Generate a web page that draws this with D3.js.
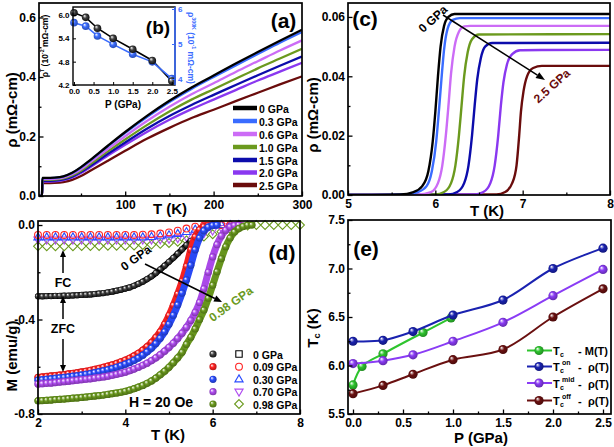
<!DOCTYPE html>
<html><head><meta charset="utf-8">
<script src="https://cdn.jsdelivr.net/npm/d3@7"></script>
<style>body{margin:0;background:#fff}svg{display:block}</style>
</head><body><svg width="614" height="447"></svg>
<script>
// ================= DATA =================
// Panel (a): rho(T) 0-300 K
const aT = [2.5, 5.9, 6.3, 10, 20, 30, 40, 50, 60, 80, 100, 125, 150, 175, 200, 225, 250, 275, 300];
const aLabels = ["0 GPa","0.3 GPa","0.6 GPa","1.0 GPa","1.5 GPa","2.0 GPa","2.5 GPa"];
const aRho00 = [0,0,0.061,0.061,0.062,0.066,0.078,0.097,0.120,0.168,0.215,0.270,0.320,0.365,0.405,0.445,0.484,0.522,0.559];
const aRho03 = [0,0,0.060,0.060,0.061,0.065,0.077,0.096,0.118,0.166,0.212,0.266,0.316,0.360,0.400,0.439,0.477,0.515,0.551];
const aRho06 = [0,0,0.057,0.057,0.058,0.062,0.073,0.090,0.112,0.157,0.201,0.253,0.300,0.342,0.379,0.417,0.453,0.489,0.523];
const aRho10 = [0,0,0.054,0.054,0.055,0.059,0.069,0.085,0.106,0.149,0.190,0.239,0.284,0.324,0.359,0.394,0.429,0.462,0.495];
const aRho15 = [0,0,0.051,0.051,0.052,0.056,0.065,0.081,0.100,0.141,0.180,0.227,0.269,0.306,0.340,0.373,0.406,0.438,0.469];
const aRho20 = [0,0,0.048,0.048,0.049,0.053,0.062,0.077,0.096,0.135,0.172,0.216,0.256,0.292,0.324,0.356,0.388,0.418,0.448];
const aRho25 = [0,0,0.043,0.043,0.044,0.047,0.054,0.067,0.084,0.118,0.152,0.193,0.229,0.262,0.290,0.319,0.347,0.375,0.402];
const aXTicks = [100, 200, 300];
const aYTicks = [0.0, 0.2, 0.4, 0.6];

// Panel (b): inset
const bP = [0, 0.3, 0.6, 1.0, 1.5, 2.0, 2.5];
const bRhoT = [6.06, 5.94, 5.66, 5.40, 5.12, 4.83, 4.30];
const bRho300 = [5.61, 5.51, 5.23, 4.99, 4.71, 4.49, 4.01];
const bXTicks = [0, 0.5, 1.0, 1.5, 2.0, 2.5];
const bYTicksL = [4.2, 4.8, 5.4, 6.0];
const bYTicksR = [4, 5, 6];

// Panel (c): rho(T) near Tc
const cT00 = [5, 5.6, 5.75, 5.85, 5.92, 5.97, 6.00, 6.03, 6.06, 6.10, 6.15, 6.22, 8];
const cR00 = [0, 0.0002, 0.001, 0.003, 0.008, 0.018, 0.028, 0.040, 0.050, 0.057, 0.060, 0.061, 0.061];
const cT03 = [5, 5.65, 5.8, 5.9, 5.96, 6.01, 6.04, 6.07, 6.10, 6.14, 6.20, 6.28, 8];
const cR03 = [0, 0.0002, 0.001, 0.003, 0.008, 0.018, 0.028, 0.039, 0.049, 0.056, 0.059, 0.0596, 0.0596];
const cT06 = [5, 5.8, 5.95, 6.03, 6.08, 6.12, 6.15, 6.18, 6.22, 6.27, 6.33, 6.40, 8];
const cR06 = [0, 0.0002, 0.001, 0.004, 0.010, 0.020, 0.030, 0.041, 0.050, 0.055, 0.0568, 0.057, 0.057];
const cT10 = [5, 6.0, 6.1, 6.18, 6.23, 6.27, 6.30, 6.33, 6.37, 6.42, 6.50, 8];
const cR10 = [0, 0.0002, 0.001, 0.004, 0.010, 0.020, 0.030, 0.040, 0.048, 0.0525, 0.0541, 0.0542];
const cT15 = [5, 6.15, 6.25, 6.33, 6.38, 6.42, 6.45, 6.48, 6.52, 6.57, 6.65, 8];
const cR15 = [0, 0.0002, 0.001, 0.004, 0.010, 0.020, 0.030, 0.039, 0.046, 0.050, 0.0512, 0.0513];
const cT20 = [5, 6.45, 6.55, 6.63, 6.68, 6.72, 6.75, 6.78, 6.82, 6.88, 6.97, 8];
const cR20 = [0, 0.0002, 0.001, 0.004, 0.010, 0.020, 0.030, 0.038, 0.044, 0.0475, 0.0488, 0.0489];
const cT25 = [5, 6.7, 6.8, 6.88, 6.93, 6.96, 6.98, 7.01, 7.05, 7.12, 7.22, 8];
const cR25 = [0, 0.0002, 0.001, 0.004, 0.010, 0.020, 0.028, 0.035, 0.040, 0.0428, 0.0435, 0.0435];
const cXTicks = [5, 6, 7, 8];
const cYTicks = [0.00, 0.02, 0.04, 0.06];

// Panel (d): M(T), ZFC (filled spheres) and FC (open symbols)
const dLabels = ["0 GPa", "0.09 GPa", "0.30 GPa", "0.70 GPa", "0.98 GPa"];
const zT = [2.0,2.1,2.2,2.3,2.4,2.5,2.6,2.7,2.8,2.9,3.0,3.1,3.2,3.3,3.4,3.5,3.6,3.7,3.8,3.9,4.0,4.1,4.2,4.3,4.4,4.5,4.6,4.7,4.8,4.9,5.0,5.1,5.2,5.3,5.4,5.5,5.6,5.7,5.8,5.9,6.0,6.1,6.2,6.3,6.4,6.5,6.6,6.7,6.8,6.9,7.0];
const zfc000 = [-0.302,-0.302,-0.301,-0.301,-0.300,-0.300,-0.299,-0.299,-0.298,-0.297,-0.296,-0.295,-0.294,-0.292,-0.290,-0.288,-0.285,-0.282,-0.278,-0.274,-0.269,-0.264,-0.257,-0.249,-0.240,-0.229,-0.217,-0.203,-0.188,-0.172,-0.156,-0.139,-0.121,-0.103,-0.085,-0.067];
const zfc009 = [-0.645,-0.643,-0.641,-0.639,-0.637,-0.635,-0.633,-0.630,-0.628,-0.625,-0.622,-0.619,-0.615,-0.611,-0.607,-0.602,-0.597,-0.592,-0.586,-0.579,-0.572,-0.564,-0.554,-0.543,-0.530,-0.515,-0.497,-0.476,-0.452,-0.420,-0.383,-0.340,-0.292,-0.238,-0.175,-0.105,-0.050,-0.020,-0.007,-0.002,0];
const zfc030 = [-0.657,-0.655,-0.653,-0.651,-0.649,-0.647,-0.645,-0.643,-0.640,-0.638,-0.635,-0.632,-0.629,-0.625,-0.621,-0.617,-0.613,-0.608,-0.602,-0.596,-0.589,-0.582,-0.573,-0.563,-0.551,-0.537,-0.521,-0.502,-0.479,-0.452,-0.420,-0.382,-0.338,-0.288,-0.232,-0.170,-0.105,-0.055,-0.024,-0.009,-0.002,0];
const zfc070 = [-0.673,-0.672,-0.670,-0.669,-0.667,-0.665,-0.663,-0.661,-0.659,-0.657,-0.655,-0.653,-0.651,-0.648,-0.646,-0.643,-0.640,-0.636,-0.632,-0.628,-0.623,-0.617,-0.610,-0.602,-0.594,-0.585,-0.574,-0.562,-0.549,-0.534,-0.518,-0.500,-0.480,-0.458,-0.433,-0.404,-0.370,-0.328,-0.270,-0.200,-0.135,-0.083,-0.046,-0.022,-0.008,-0.002,0];
const zfc098 = [-0.744,-0.743,-0.742,-0.741,-0.739,-0.738,-0.737,-0.735,-0.733,-0.732,-0.730,-0.728,-0.726,-0.724,-0.722,-0.720,-0.717,-0.714,-0.711,-0.708,-0.704,-0.699,-0.693,-0.686,-0.679,-0.670,-0.660,-0.648,-0.634,-0.619,-0.602,-0.583,-0.562,-0.539,-0.505,-0.475,-0.440,-0.400,-0.360,-0.310,-0.255,-0.198,-0.142,-0.092,-0.055,-0.030,-0.015,-0.006,-0.001,0];
const fT = [2.0,2.2,2.4,2.6,2.8,3.0,3.2,3.4,3.6,3.8,4.0,4.2,4.4,4.6,4.8,5.0,5.2,5.4,5.6,5.8,6.0,6.2,6.4,6.6,6.8,7.0,7.2,7.4,7.6,7.8,8.0];
const fc009 = [-0.042,-0.042,-0.042,-0.042,-0.042,-0.042,-0.042,-0.042,-0.042,-0.042,-0.042,-0.042,-0.041,-0.039,-0.036,-0.031,-0.024,-0.015,-0.007,-0.002,0,0,0,0];
const fc030 = [-0.052,-0.052,-0.052,-0.052,-0.052,-0.052,-0.052,-0.052,-0.052,-0.052,-0.052,-0.052,-0.052,-0.050,-0.047,-0.043,-0.037,-0.029,-0.019,-0.009,-0.003,0,0,0];
const fc070 = [-0.062,-0.062,-0.062,-0.062,-0.062,-0.062,-0.062,-0.062,-0.062,-0.062,-0.062,-0.062,-0.062,-0.062,-0.061,-0.059,-0.056,-0.051,-0.044,-0.035,-0.024,-0.013,-0.005,-0.001];
const fc098 = [-0.090,-0.090,-0.090,-0.090,-0.090,-0.089,-0.089,-0.089,-0.088,-0.088,-0.088,-0.087,-0.085,-0.083,-0.080,-0.076,-0.071,-0.065,-0.058,-0.049,-0.039,-0.028,-0.016,-0.007,-0.002,0,0,0,0,0,0];
const dXTicks = [2, 4, 6, 8];
const dYTicks = [0.0, -0.4, -0.8];

// Panel (e): Tc vs P
const eP_M = [0, 0.09, 0.30, 0.70, 0.98];
const eTcM = [5.80, 5.99, 6.12, 6.34, 6.49];
const eP_R = [0, 0.3, 0.6, 1.0, 1.5, 2.0, 2.5];
const eTcOn = [6.25, 6.26, 6.35, 6.52, 6.675, 7.00, 7.21];
const eTcMid = [6.02, 6.05, 6.11, 6.25, 6.445, 6.72, 6.99];
const eTcOff = [5.71, 5.795, 5.91, 6.06, 6.165, 6.50, 6.79];
const eXTicks = [0, 0.5, 1.0, 1.5, 2.0, 2.5];
const eYTicks = [5.5, 6.0, 6.5, 7.0, 7.5];

// ================= DRAWING =================
const FONT = "'Liberation Sans', Arial, Helvetica, sans-serif";
const svg = d3.select("svg");
const defs = svg.append("defs");
const gradCache = {};
function sphere(color){
  if (gradCache[color]) return gradCache[color];
  const id = "sg" + Object.keys(gradCache).length;
  const g = defs.append("radialGradient").attr("id", id)
    .attr("cx","50%").attr("cy","50%").attr("r","60%").attr("fx","32%").attr("fy","30%");
  g.append("stop").attr("offset","0%").attr("stop-color","#ffffff");
  g.append("stop").attr("offset","40%").attr("stop-color", color === "#000000" ? "#444" : color);
  g.append("stop").attr("offset","100%").attr("stop-color", d3.color(color).darker(1.3).formatHex());
  return gradCache[color] = "url(#" + id + ")";
}
function txt(g, x, y, s, fs, opt){
  opt = opt || {};
  const t = g.append("text").attr("x", x).attr("y", y)
    .attr("font-family", FONT).attr("font-weight","bold").attr("font-size", fs)
    .attr("fill", opt.fill || "#000")
    .attr("text-anchor", opt.anchor || "middle")
    .attr("dominant-baseline", opt.base || "central");
  if (opt.rot !== undefined) t.attr("transform", `rotate(${opt.rot},${x},${y})`);
  if (s !== null) t.text(s);
  return t;
}
function rich(t, parts, fs){
  let shift = 0;
  parts.forEach(([s, k]) => {
    const target = k === "sup" ? -fs*0.38 : (k === "sub" ? fs*0.3 : 0);
    t.append("tspan").attr("dy", target - shift).attr("font-size", k === "n" ? fs : fs*0.62).text(s);
    shift = target;
  });
}
function makePanel(o){
  const x = d3.scaleLinear().domain(o.xd).range([o.x0, o.x1]);
  const y = d3.scaleLinear().domain(o.yd).range([o.y1, o.y0]);
  const id = "clip" + Math.round(o.x0) + "_" + Math.round(o.y0);
  defs.append("clipPath").attr("id", id).append("rect")
    .attr("x", o.x0).attr("y", o.y0).attr("width", o.x1 - o.x0).attr("height", o.y1 - o.y0);
  return {x, y, o, clip: "url(#" + id + ")"};
}
function axes(p, c){
  const o = p.o, g = svg.append("g");
  const fs = c.fs || 12, tl = c.tl || 4.5, ml = c.ml || 2.5;
  g.append("g").attr("transform", `translate(0,${o.y1})`)
    .call(d3.axisBottom(p.x).tickValues(c.xt).tickSize(-tl).tickPadding(c.xpad || 4).tickFormat(c.xf));
  if (c.xm) g.append("g").attr("transform", `translate(0,${o.y1})`)
    .call(d3.axisBottom(p.x).tickValues(c.xm).tickSize(-ml).tickFormat(""));
  g.append("g").attr("transform", `translate(${o.x0},0)`)
    .call(d3.axisLeft(p.y).tickValues(c.yt).tickSize(-tl).tickPadding(c.ypad || 3).tickFormat(c.yf));
  if (c.ym) g.append("g").attr("transform", `translate(${o.x0},0)`)
    .call(d3.axisLeft(p.y).tickValues(c.ym).tickSize(-ml).tickFormat(""));
  g.selectAll(".domain").remove();
  g.selectAll(".tick line").attr("stroke", "#000").attr("stroke-width", c.tw || 1.3);
  g.selectAll(".tick text").attr("font-family", FONT).attr("font-weight", "bold")
    .attr("font-size", fs).attr("fill", "#000");
  g.append("rect").attr("x", o.x0).attr("y", o.y0).attr("width", o.x1 - o.x0).attr("height", o.y1 - o.y0)
    .attr("fill", "none").attr("stroke", "#000").attr("stroke-width", c.fw || 1.7);
  return g;
}
function arrow(g, x1, y1, x2, y2, color, w, hl, hw){
  const a = Math.atan2(y2 - y1, x2 - x1);
  const bx = x2 - hl*Math.cos(a), by = y2 - hl*Math.sin(a);
  g.append("line").attr("x1", x1).attr("y1", y1).attr("x2", bx).attr("y2", by)
    .attr("stroke", color).attr("stroke-width", w);
  const px = -Math.sin(a)*hw, py = Math.cos(a)*hw;
  g.append("path").attr("d", `M${x2},${y2}L${bx+px},${by+py}L${bx-px},${by-py}Z`).attr("fill", color);
}
const fmt = n => d => d.toFixed(n);

// ---------- Panel (a) ----------
const aColors = ["#000000","#3a6cff","#cc6cf6","#6b9a1e","#0c0cab","#8a38f0","#6a0c0c"];
const aSeries = [aRho00, aRho03, aRho06, aRho10, aRho15, aRho20, aRho25];
const pa = makePanel({x0:39, x1:302, y0:3, y1:196, xd:[2.5, 300], yd:[0, 0.6487]});
{
  const g = svg.append("g").attr("clip-path", pa.clip);
  const line = d3.line().x((d,i) => pa.x(aT[i])).y(d => pa.y(d)).curve(d3.curveMonotoneX);
  for (let k = aSeries.length - 1; k >= 0; k--)
    g.append("path").attr("d", line(aSeries[k])).attr("fill","none").attr("stroke", aColors[k]).attr("stroke-width", 2.3);
  axes(pa, {xt:aXTicks, xm:[50,150,250], yt:aYTicks, ym:[0.1,0.3,0.5], xf:d3.format("d"), yf:fmt(1)});
  const lg = svg.append("g");
  const ly = [108, 121, 134, 147, 160, 172.5, 185];
  aLabels.forEach((s, k) => {
    lg.append("line").attr("x1", 233).attr("x2", 257).attr("y1", ly[k]).attr("y2", ly[k])
      .attr("stroke", aColors[k]).attr("stroke-width", 4.5);
    txt(lg, 259, ly[k] + 0.5, s, 10.5, {anchor:"start"});
  });
  txt(svg, 283.5, 20, "(a)", 21);
  txt(svg, 170, 208, "T (K)", 15);
  txt(svg, 11, 110, "ρ (mΩ-cm)", 15, {rot:-90});
}

// ---------- Panel (b) inset ----------
{
  const o = {x0:73, x1:175, y0:7, y1:85, xd:[-0.025, 2.58], yd:[4.2, 6.206]};
  const pb = makePanel(o);
  const yR = d3.scaleLinear().domain([3.829, 6.057]).range([o.y1, o.y0]);
  svg.append("rect").attr("x", o.x0).attr("y", o.y0).attr("width", o.x1-o.x0).attr("height", o.y1-o.y0).attr("fill","#fff");
  const g = svg.append("g");
  const lineL = d3.line().x((d,i) => pb.x(bP[i])).y(d => pb.y(d));
  const lineR = d3.line().x((d,i) => pb.x(bP[i])).y(d => yR(d));
  g.append("path").attr("d", lineL(bRhoT)).attr("fill","none").attr("stroke","#000").attr("stroke-width",1.6);
  g.append("path").attr("d", lineR(bRho300)).attr("fill","none").attr("stroke","#3a6cff").attr("stroke-width",1.6);
  bRho300.forEach((v,i) => g.append("circle").attr("cx", pb.x(bP[i])).attr("cy", yR(v)).attr("r", 3.8).attr("fill", sphere("#3a6cff")));
  bRhoT.forEach((v,i) => g.append("circle").attr("cx", pb.x(bP[i])).attr("cy", pb.y(v)).attr("r", 3.8).attr("fill", sphere("#000000")));
  axes(pb, {xt:bXTicks, yt:bYTicksL, xf:fmt(1), yf:fmt(1), fs:8, tl:3, xpad:3.5, ypad:3.5, fw:1.4, tw:1});
  const gr = svg.append("g").attr("transform", `translate(${o.x1},0)`)
    .call(d3.axisRight(yR).tickValues(bYTicksR).tickSize(-3).tickPadding(3).tickFormat(d3.format("d")));
  gr.select(".domain").remove();
  gr.selectAll(".tick line").attr("stroke","#3a6cff").attr("stroke-width",1);
  gr.selectAll(".tick text").attr("font-family",FONT).attr("font-weight","bold").attr("font-size",8).attr("fill","#3a6cff");
  svg.append("line").attr("x1",o.x1).attr("x2",o.x1).attr("y1",o.y0).attr("y2",o.y1).attr("stroke","#3a6cff").attr("stroke-width",1.6);
  txt(svg, 158, 27, "(b)", 19);
  txt(svg, 123, 104, "P (GPa)", 10);
  const tl = txt(svg, 45, 46, null, 8.5, {rot:-90});
  rich(tl, [["ρ","n"],["T","sup"],[" (10","n"],["-2","sup"],[" mΩ-cm)","n"]], 8.5);
  const tr = txt(svg, 191, 48, null, 8.5, {rot:90, fill:"#3a6cff"});
  rich(tr, [["ρ","n"],["300K","sup"],[" (10","n"],["-1","sup"],[" mΩ-cm)","n"]], 8.5);
}

// ---------- Panel (c) ----------
{
  const pc = makePanel({x0:348, x1:610, y0:3, y1:195, xd:[5, 8], yd:[0, 0.0647]});
  const cSeries = [[cT00,cR00],[cT03,cR03],[cT06,cR06],[cT10,cR10],[cT15,cR15],[cT20,cR20],[cT25,cR25]];
  const g = svg.append("g").attr("clip-path", pc.clip);
  for (let k = cSeries.length - 1; k >= 0; k--) {
    const [T, R] = cSeries[k];
    const line = d3.line().x((d,i) => pc.x(T[i])).y(d => pc.y(d)).curve(d3.curveMonotoneX);
    g.append("path").attr("d", line(R)).attr("fill","none").attr("stroke", aColors[k]).attr("stroke-width", 2.4);
  }
  axes(pc, {xt:cXTicks, xm:[5.5,6.5,7.5], yt:cYTicks, ym:[0.01,0.03,0.05], xf:d3.format("d"), yf:fmt(2)});
  const ag = svg.append("g");
  arrow(ag, 443, 15, 545, 80, "#000", 1.5, 9, 3.5);
  txt(svg, 433, 19, "0 GPa", 12, {rot:-42});
  txt(svg, 552, 86, "2.5 GPa", 12, {rot:-42, fill:"#6a0c0c"});
  txt(svg, 365, 18, "(c)", 21);
  txt(svg, 487, 210, "T (K)", 15);
  txt(svg, 312, 115, "ρ (mΩ-cm)", 15, {rot:-90});
}

// ---------- Panel (d) ----------
{
  const pd = makePanel({x0:38, x1:300, y0:221, y1:414, xd:[2, 8], yd:[-0.8, 0.017]});
  const dColors = ["#000000","#ff2222","#2a4cff","#b04cf0","#6b9a1e"];
  const zSeries = [zfc000, zfc009, zfc030, zfc070, zfc098];
  const fSeries = [null, fc009, fc030, fc070, fc098];
  const shapes = [
    "M-3.2,-3.2h6.4v6.4h-6.4Z",
    null,
    "M0,-4.4L4.1,2.6L-4.1,2.6Z",
    "M0,4.4L4.1,-2.6L-4.1,-2.6Z",
    "M0,-4.4L4.4,0L0,4.4L-4.4,0Z"
  ];
  function openMark(g, k, x, y){
    if (k === 1) g.append("circle").attr("cx", x).attr("cy", y).attr("r", 3.4)
      .attr("fill","none").attr("stroke", dColors[k]).attr("stroke-width", 1.1);
    else g.append("path").attr("d", shapes[k]).attr("transform", `translate(${x},${y})`)
      .attr("fill","none").attr("stroke", dColors[k]).attr("stroke-width", 1.1);
  }
  const g = svg.append("g");
  // FC (open symbols)
  for (let k = 4; k >= 1; k--) {
    fSeries[k].forEach((v,i) => openMark(g, k, pd.x(fT[i]), pd.y(v)));
  }
  // ZFC (spheres)
  zSeries.forEach((arr, k) => {
    const line = d3.line().x((d,i) => pd.x(zT[i])).y(d => pd.y(d)).curve(d3.curveMonotoneX);
    const w = k === 0 ? 6 : 7;
    g.append("path").attr("d", line(arr)).attr("fill","none").attr("stroke", d3.color(dColors[k]).darker(0.1).formatHex())
      .attr("stroke-width", w).attr("stroke-linecap","round");
    arr.forEach((v,i) => g.append("circle").attr("cx", pd.x(zT[i])).attr("cy", pd.y(v))
      .attr("r", k === 0 ? 3.1 : 3.6).attr("fill", sphere(dColors[k])));
  });
  axes(pd, {xt:dXTicks, xm:[3,5,7], yt:dYTicks, ym:[-0.2,-0.6], xf:d3.format("d"), yf:fmt(1)});
  // legend
  const lg = svg.append("g");
  const ly = [354, 366.7, 379.3, 391.7, 404];
  dLabels.forEach((s, k) => {
    lg.append("circle").attr("cx", 213).attr("cy", ly[k]).attr("r", 3.6).attr("fill", sphere(dColors[k]));
    openMark(lg, k, 239, ly[k]);
    txt(lg, 253, ly[k] + 0.5, s, 10.5, {anchor:"start"});
  });
  // annotations
  const ag = svg.append("g");
  txt(svg, 63, 283, "FC", 12.5);
  arrow(ag, 63, 273, 63, 250, "#000", 1.5, 7, 3);
  txt(svg, 63, 329, "ZFC", 12.5);
  arrow(ag, 63, 319, 63, 296, "#000", 1.5, 7, 3);
  arrow(ag, 63, 339, 63, 372, "#000", 1.5, 7, 3);
  arrow(ag, 145, 264, 222, 302, "#000", 1.5, 8, 3.3);
  txt(svg, 136, 258, "0 GPa", 12, {rot:-36});
  txt(svg, 231, 304, "0.98 GPa", 12, {rot:-36, fill:"#6b9a1e"});
  txt(svg, 161, 402, "H = 20 Oe", 14);
  txt(svg, 282, 252, "(d)", 21);
  txt(svg, 168, 434, "T (K)", 15);
  txt(svg, 11, 356, "M (emu/g)", 15, {rot:-90});
}

// ---------- Panel (e) ----------
{
  const pe = makePanel({x0:348, x1:611, y0:220, y1:414, xd:[-0.05, 2.58], yd:[5.5, 7.5]});
  const g = svg.append("g");
  const eCols = ["#2ec42e", "#1a22b0", "#8a3cf5", "#6a1010"];
  const sets = [[eP_M, eTcM, eCols[0]], [eP_R, eTcOff, eCols[3]], [eP_R, eTcMid, eCols[2]], [eP_R, eTcOn, eCols[1]]];
  sets.forEach(([P, V, col]) => {
    const line = d3.line().x((d,i) => pe.x(P[i])).y(d => pe.y(d)).curve(d3.curveCatmullRom.alpha(0.5));
    g.append("path").attr("d", line(V)).attr("fill","none").attr("stroke", col).attr("stroke-width", 2);
    V.forEach((v,i) => g.append("circle").attr("cx", pe.x(P[i])).attr("cy", pe.y(v)).attr("r", 4.6).attr("fill", sphere(col)));
  });
  axes(pe, {xt:eXTicks, xm:[0.25,0.75,1.25,1.75,2.25], yt:eYTicks, ym:[5.75,6.25,6.75,7.25], xf:fmt(1), yf:fmt(1)});
  // legend
  const lg = svg.append("g");
  const ly = [350.5, 366.5, 383, 400.5];
  const sup = ["", "on", "mid", "off"];
  eCols.forEach((col, k) => {
    lg.append("line").attr("x1", 527).attr("x2", 552).attr("y1", ly[k]).attr("y2", ly[k]).attr("stroke", col).attr("stroke-width", 2);
    lg.append("circle").attr("cx", 539).attr("cy", ly[k]).attr("r", 4.6).attr("fill", sphere(col));
    txt(lg, 553, ly[k] + 0.5, "T", 11, {anchor:"start"});
    txt(lg, 560, ly[k] + 4, "c", 7, {anchor:"start"});
    if (sup[k]) txt(lg, 562, ly[k] - 4, sup[k], 7, {anchor:"start"});
    if (k === 0) txt(lg, 578, ly[k] + 0.5, "- M(T)", 11, {anchor:"start"});
    else { txt(lg, 578, ly[k] + 0.5, "-", 11, {anchor:"start"}); txt(lg, 588, ly[k] + 0.5, "ρ(T)", 11, {anchor:"start"}); }
  });
  txt(svg, 366, 248, "(e)", 21);
  txt(svg, 481, 437, "P (GPa)", 15);
  const ty = txt(svg, 312, 328, null, 15, {rot:-90});
  rich(ty, [["T","n"],["c","sub"],[" (K)","n"]], 15);
}
</script></body></html>
